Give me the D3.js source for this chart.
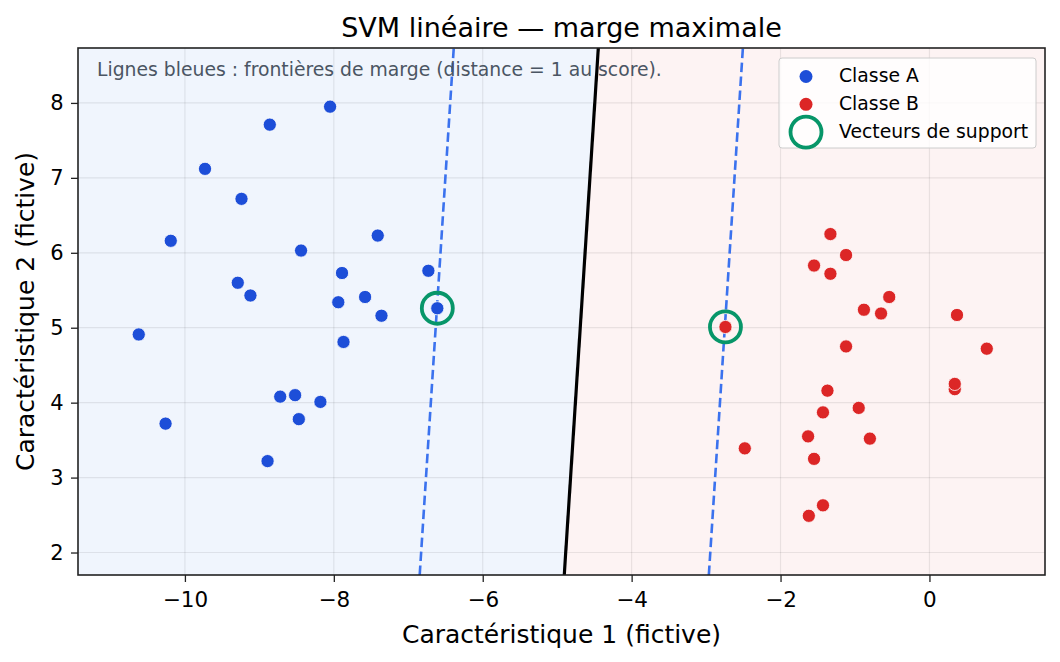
<!DOCTYPE html>
<html>
<head>
<meta charset="utf-8">
<script src="https://cdn.jsdelivr.net/npm/d3@7"></script>
<style>
  body { margin: 0; background: #fff; }
  text { font-family: "DejaVu Sans", sans-serif; }
</style>
</head>
<body>
<svg id="chart" width="1060" height="662"></svg>
<script>
// points
const classA = [
  [-8.05, 7.95], [-8.86, 7.71], [-9.73, 7.12], [-9.24, 6.72], [-10.19, 6.16],
  [-7.41, 6.23], [-8.44, 6.03], [-7.89, 5.73], [-6.73, 5.76], [-9.29, 5.60],
  [-9.12, 5.43], [-7.94, 5.34], [-7.58, 5.41], [-7.36, 5.16], [-6.61, 5.26],
  [-10.62, 4.91], [-7.87, 4.81], [-8.72, 4.08], [-8.52, 4.10], [-8.18, 4.01],
  [-8.47, 3.78], [-10.26, 3.72], [-8.89, 3.22]
];
const classB = [
  [-1.33, 6.25], [-1.12, 5.97], [-1.55, 5.83], [-1.33, 5.72], [-0.54, 5.41],
  [-0.88, 5.24], [-0.65, 5.19], [0.37, 5.17], [-1.12, 4.75], [0.77, 4.72],
  [0.34, 4.18], [0.34, 4.25], [-1.37, 4.16], [-1.43, 3.87], [-0.95, 3.93],
  [-1.63, 3.55], [-0.80, 3.52], [-2.48, 3.39], [-1.55, 3.25], [-1.43, 2.63],
  [-1.62, 2.49], [-2.74, 5.01]
];
const supportVectors = [[-6.61, 5.26], [-2.74, 5.01]];

// decision function w.x + b
const w = [0.515, -0.0335];
const b = 2.583;
const marginLevels = [-1, 1];

const xTicks = [-10, -8, -6, -4, -2, 0];
const yTicks = [2, 3, 4, 5, 6, 7, 8];
const legendItems = ["Classe A", "Classe B", "Vecteurs de support"];

const svg = d3.select("#chart");
const margin = {top: 48, left: 78, right: 15, bottom: 87};
const width = 1060, height = 662;

const x = d3.scaleLinear()
  .domain([-11.436, 1.552])
  .range([margin.left, width - margin.right]);
const y = d3.scaleLinear()
  .domain([1.70, 8.733])
  .range([height - margin.bottom, margin.top]);

const [x0, x1] = x.domain();
const [y0, y1] = y.domain();

// x where the score equals level, for a given y
function xAt(level, yy) {
  return (level - b - w[1] * yy) / w[0];
}

svg.append("clipPath").attr("id", "plot")
  .append("rect")
  .attr("x", x(x0)).attr("y", y(y1))
  .attr("width", x(x1) - x(x0)).attr("height", y(y0) - y(y1));

const plot = svg.append("g").attr("clip-path", "url(#plot)");

// background regions
const line = d3.line().x(d => x(d[0])).y(d => y(d[1]));
plot.append("path")
  .attr("d", line([[x0, y0], [xAt(0, y0), y0], [xAt(0, y1), y1], [x0, y1]]) + "Z")
  .attr("fill", "#f0f5fd");
plot.append("path")
  .attr("d", line([[xAt(0, y0), y0], [x1, y0], [x1, y1], [xAt(0, y1), y1]]) + "Z")
  .attr("fill", "#fdf3f3");

// grid
plot.selectAll(".gx").data(xTicks).enter().append("line")
  .attr("x1", d => x(d)).attr("x2", d => x(d))
  .attr("y1", y(y0)).attr("y2", y(y1))
  .attr("stroke", "#000").attr("stroke-opacity", 0.08).attr("stroke-width", 1.2);
plot.selectAll(".gy").data(yTicks).enter().append("line")
  .attr("x1", x(x0)).attr("x2", x(x1))
  .attr("y1", d => y(d)).attr("y2", d => y(d))
  .attr("stroke", "#000").attr("stroke-opacity", 0.08).attr("stroke-width", 1.2);

// decision boundary and margins
plot.append("path")
  .attr("d", line([[xAt(0, y0), y0], [xAt(0, y1), y1]]))
  .attr("stroke", "#000").attr("stroke-width", 3.2).attr("fill", "none");
plot.selectAll(".margin").data(marginLevels).enter().append("path")
  .attr("d", l => line([[xAt(l, y0), y0], [xAt(l, y1), y1]]))
  .attr("stroke", "#3b72ee").attr("stroke-width", 2.6)
  .attr("stroke-dasharray", "9.5,4.5").attr("fill", "none");

// points
plot.selectAll(".a").data(classA).enter().append("circle")
  .attr("cx", d => x(d[0])).attr("cy", d => y(d[1])).attr("r", 6.6)
  .attr("fill", "#1d4ed8").attr("stroke", "#fff").attr("stroke-width", 0.8);
plot.selectAll(".b").data(classB).enter().append("circle")
  .attr("cx", d => x(d[0])).attr("cy", d => y(d[1])).attr("r", 6.6)
  .attr("fill", "#dc2626").attr("stroke", "#fff").attr("stroke-width", 0.8);
plot.selectAll(".sv").data(supportVectors).enter().append("circle")
  .attr("cx", d => x(d[0])).attr("cy", d => y(d[1])).attr("r", 15.5)
  .attr("fill", "none").attr("stroke", "#079669").attr("stroke-width", 3.8);

// annotation
svg.append("text")
  .attr("x", 97).attr("y", 76)
  .attr("font-size", 18.8).attr("fill", "#4b5563")
  .text("Lignes bleues : frontières de marge (distance = 1 au score).");

// axes
const fmt = d3.format("d");
svg.append("g")
  .attr("transform", `translate(0,${y(y0)})`)
  .call(d3.axisBottom(x).tickValues(xTicks).tickSize(7).tickPadding(10).tickFormat(fmt))
  .call(g => g.select(".domain").remove())
  .call(g => g.selectAll("text").attr("font-size", 21.5).attr("fill", "#000").style("font-family", "DejaVu Sans"))
  .call(g => g.selectAll("line").attr("stroke", "#222").attr("stroke-width", 1.3));
svg.append("g")
  .attr("transform", `translate(${x(x0)},0)`)
  .call(d3.axisLeft(y).tickValues(yTicks).tickSize(7).tickPadding(7.5).tickFormat(fmt))
  .call(g => g.select(".domain").remove())
  .call(g => g.selectAll("text").attr("font-size", 21).attr("fill", "#000").style("font-family", "DejaVu Sans"))
  .call(g => g.selectAll("line").attr("stroke", "#222").attr("stroke-width", 1.3));

// frame
svg.append("rect")
  .attr("x", x(x0)).attr("y", y(y1))
  .attr("width", x(x1) - x(x0)).attr("height", y(y0) - y(y1))
  .attr("fill", "none").attr("stroke", "#222").attr("stroke-width", 1.6);

// titles
svg.append("text")
  .attr("x", (x(x0) + x(x1)) / 2).attr("y", 37)
  .attr("text-anchor", "middle").attr("font-size", 27)
  .text("SVM linéaire — marge maximale");
svg.append("text")
  .attr("x", (x(x0) + x(x1)) / 2).attr("y", 643)
  .attr("text-anchor", "middle").attr("font-size", 25)
  .text("Caractéristique 1 (fictive)");
svg.append("text")
  .attr("transform", `translate(34,${(y(y0) + y(y1)) / 2}) rotate(-90)`)
  .attr("text-anchor", "middle").attr("font-size", 25)
  .text("Caractéristique 2 (fictive)");

// legend
const legend = svg.append("g").attr("transform", "translate(779,58)");
legend.append("rect")
  .attr("width", 257).attr("height", 90).attr("rx", 3)
  .attr("fill", "#fff").attr("fill-opacity", 0.8)
  .attr("stroke", "#ccc").attr("stroke-width", 1);
const item = legend.selectAll(".item").data(legendItems).enter().append("g")
  .attr("transform", (d, i) => `translate(0,${18.5 + i * 27.8})`);
item.filter((d, i) => i < 2).append("circle")
  .attr("cx", 27).attr("cy", 0).attr("r", 6.5)
  .attr("fill", (d, i) => i === 0 ? "#1d4ed8" : "#dc2626");
item.filter((d, i) => i === 2).append("circle")
  .attr("cx", 27).attr("cy", 0).attr("r", 15.5)
  .attr("fill", "none").attr("stroke", "#079669").attr("stroke-width", 3.8);
item.append("text")
  .attr("x", 60).attr("y", 5.8).attr("font-size", 18.8).attr("fill", "#000")
  .text(d => d);
</script>
</body>
</html>
